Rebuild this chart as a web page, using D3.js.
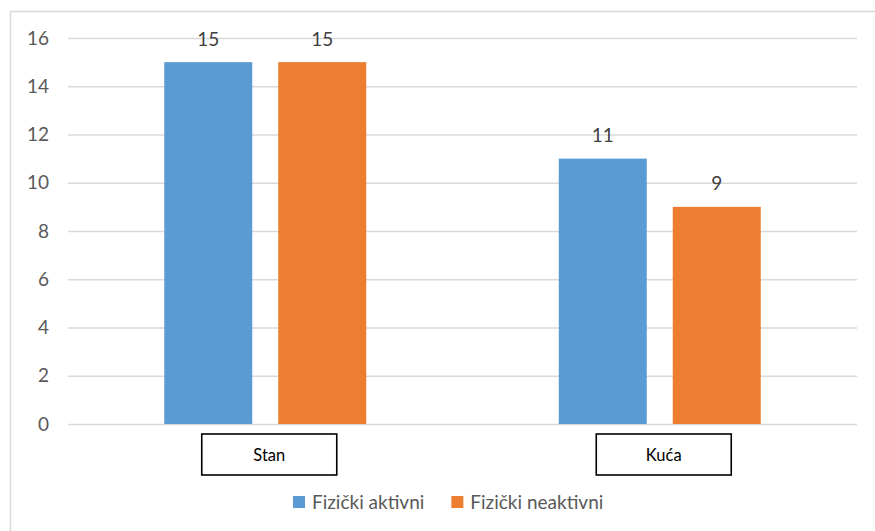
<!DOCTYPE html>
<html>
<head>
<meta charset="utf-8">
<script src="https://cdn.jsdelivr.net/npm/d3@7"></script>
<style>
  html, body { margin: 0; padding: 0; background: #fff; }
  svg { display: block; font-family: Lato, "Open Sans", sans-serif; }
</style>
</head>
<body>
<div id="chart"></div>
<script>
const CATEGORIES = ["Stan", "Kuća"]
const SERIES = ["Fizički aktivni", "Fizički neaktivni"]
const AKTIVNI = [15, 11]
const NEAKTIVNI = [15, 9]
const Y_TICKS = [0, 2, 4, 6, 8, 10, 12, 14, 16]
const COLORS = ["#5B9BD5", "#ED7D31"]

const W = 875, H = 531
const margin = {top: 38, right: 18, bottom: 107, left: 68}

const svg = d3.select("#chart").append("svg")
    .attr("width", W)
    .attr("height", H)

// outer frame (runs off the right and bottom edge)
svg.append("rect")
    .attr("x", 10.5).attr("y", 11.5)
    .attr("width", 900).attr("height", 600)
    .attr("fill", "none")
    .attr("stroke", "#d9d9d9")
    .attr("stroke-width", 1.5)

const x0 = d3.scaleBand()
    .domain(CATEGORIES)
    .range([margin.left, W - margin.right])
    .paddingInner(0.488)
    .paddingOuter(0.244)

const x1 = d3.scaleBand()
    .domain(SERIES)
    .range([0, x0.bandwidth()])
    .paddingInner(0.228)

const y = d3.scaleLinear()
    .domain([0, 16])
    .range([H - margin.bottom, margin.top])

// gridlines + tick labels
const yAxis = svg.append("g")
    .attr("transform", "translate(" + margin.left + ",0)")
    .call(d3.axisLeft(y).tickValues(Y_TICKS).tickSize(-(W - margin.left - margin.right)).tickPadding(19))
yAxis.select(".domain").remove()
yAxis.selectAll(".tick line").attr("stroke", "#d9d9d9").attr("stroke-width", 1.3)
yAxis.selectAll(".tick text")
    .attr("fill", "#595959")
    .style("font-size", "19px")
    .style("font-family", "Lato, sans-serif")

const rows = CATEGORIES.map((c, i) => ({cat: c, vals: [AKTIVNI[i], NEAKTIVNI[i]]}))

const groups = svg.selectAll("g.cat")
    .data(rows)
    .enter()
    .append("g")
    .attr("class", "cat")
    .attr("transform", d => "translate(" + x0(d.cat) + ",0)")

groups.selectAll("rect")
    .data(d => d.vals.map((v, j) => ({s: SERIES[j], v: v, j: j})))
    .enter()
    .append("rect")
    .attr("x", d => x1(d.s))
    .attr("y", d => y(d.v))
    .attr("width", x1.bandwidth())
    .attr("height", d => y(0) - y(d.v))
    .attr("fill", d => COLORS[d.j])

groups.selectAll("text.val")
    .data(d => d.vals.map((v, j) => ({s: SERIES[j], v: v})))
    .enter()
    .append("text")
    .attr("class", "val")
    .attr("x", d => x1(d.s) + x1.bandwidth() / 2)
    .attr("y", d => y(d.v) - 16.5)
    .attr("text-anchor", "middle")
    .attr("fill", "#404040")
    .style("font-size", "19px")
    .text(d => d.v)

// boxed category labels
const boxW = 135, boxH = 41
const cats = svg.selectAll("g.catlabel")
    .data(CATEGORIES)
    .enter()
    .append("g")
    .attr("class", "catlabel")
    .attr("transform", d => "translate(" + (x0(d) + x0.bandwidth() / 2 + 4) + "," + (y(0) + 10) + ")")
cats.append("rect")
    .attr("x", -boxW / 2).attr("y", 0)
    .attr("width", boxW).attr("height", boxH)
    .attr("fill", "#fff")
    .attr("stroke", "#000")
    .attr("stroke-width", 1.6)
cats.append("text")
    .attr("y", boxH / 2 + 6)
    .attr("text-anchor", "middle")
    .attr("fill", "#000")
    .style("font-size", "16.5px")
    .text(d => d)

// legend
const legend = svg.append("g")
    .attr("transform", "translate(293,496)")
let lx = 0
SERIES.forEach((s, i) => {
    const item = legend.append("g").attr("transform", "translate(" + lx + ",0)")
    item.append("rect").attr("width", 12).attr("height", 12).attr("fill", COLORS[i])
    const t = item.append("text")
        .attr("x", 19).attr("y", 12.5)
        .attr("fill", "#595959")
        .style("font-size", "19px")
        .text(s)
    lx += 19 + t.node().getComputedTextLength() + 27
})
</script>
</body>
</html>
